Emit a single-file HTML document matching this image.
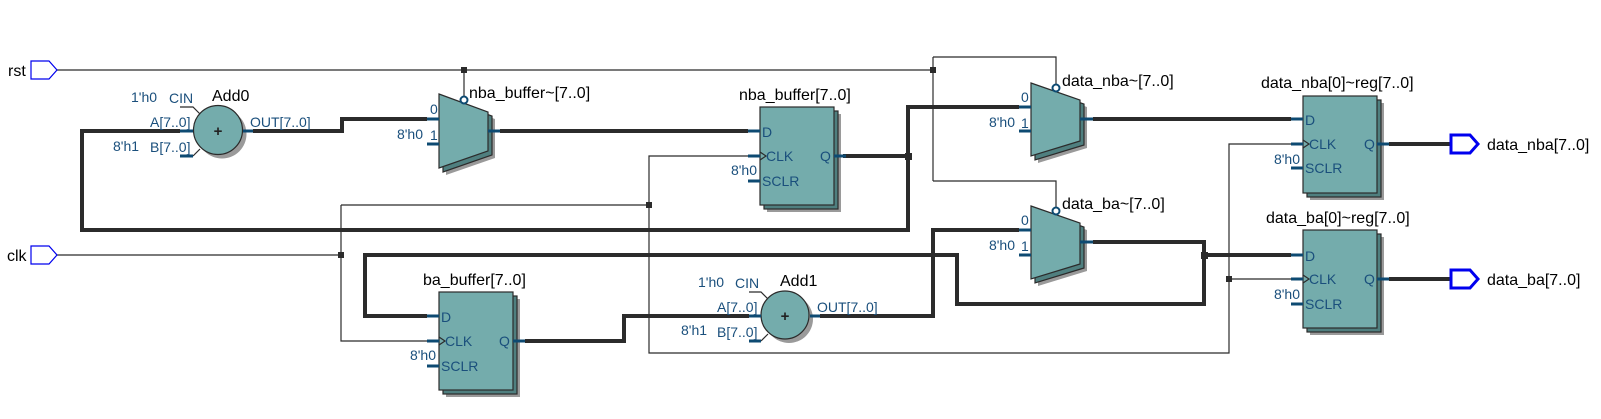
<!DOCTYPE html>
<html><head><meta charset="utf-8"><style>
html,body{margin:0;padding:0;background:#fff;}
svg{display:block;font-family:"Liberation Sans",sans-serif;}
.w{stroke:#2b2b2b;stroke-width:1.2;fill:none;}
.t{stroke:#2b2b2b;stroke-width:4;fill:none;}
.p{stroke:#0d4a72;stroke-width:3;}
.pl{fill:#1a4f7c;font-size:14px;}
.tl{fill:#000;font-size:16px;}
.body{fill:#74acac;stroke:#2b2b2b;stroke-width:1.2;}
.back{fill:#4f7f7f;stroke:#2b2b2b;stroke-width:1.2;}
.sh{fill:#9a9a9a;}
.j{fill:#2b2b2b;}
</style></head><body>
<svg width="1601" height="419" viewBox="0 0 1601 419" xmlns="http://www.w3.org/2000/svg">
<polyline class="w" points="57,70 933,70"/>
<polyline class="w" points="464,70 464,97"/>
<polyline class="w" points="933,57 933,181"/>
<polyline class="w" points="933,57 1056,57 1056,85"/>
<polyline class="w" points="933,181 1056,181 1056,208"/>
<polyline class="w" points="57,255 341,255"/>
<polyline class="w" points="341,205 341,341 427,341"/>
<polyline class="w" points="341,205 649,205"/>
<polyline class="w" points="748,156 649,156 649,353 1229,353 1229,144 1291,144"/>
<polyline class="w" points="1229,279 1291,279"/>
<polyline class="t" points="253,131 342,131 342,119 427,119"/>
<polyline class="t" points="180,131 82,131 82,230 908,230 908,107 1019,107"/>
<polyline class="t" points="843,156 908,156"/>
<polyline class="t" points="500,131 748,131"/>
<polyline class="t" points="1093,119 1291,119"/>
<polyline class="t" points="1093,242 1204,242 1204,304 957,304 957,255 365,255 365,316 427,316"/>
<polyline class="t" points="1204,255 1291,255"/>
<polyline class="t" points="525,341 624,341 624,316 749,316"/>
<polyline class="t" points="820,316 933,316 933,230 1019,230"/>
<polyline class="t" points="1389,144 1451,144"/>
<polyline class="t" points="1389,279 1451,279"/>
<rect class="j" x="461" y="67" width="6" height="6"/>
<rect class="j" x="930" y="67" width="6" height="6"/>
<rect class="j" x="338" y="252" width="6" height="6"/>
<rect class="j" x="646" y="202" width="6" height="6"/>
<rect class="j" x="905" y="153" width="7" height="7"/>
<rect class="j" x="1201" y="252" width="7" height="7"/>
<rect class="j" x="1226" y="276" width="6" height="6"/>
<text x="8" y="76" class="tl">rst</text>
<polygon points="31,61 49,61 57,70 49,79 31,79" fill="#fff" stroke="#0000ee" stroke-width="1.2"/>
<text x="7" y="261" class="tl">clk</text>
<polygon points="31,246 49,246 57,255 49,264 31,264" fill="#fff" stroke="#0000ee" stroke-width="1.2"/>
<polygon points="1451,135 1470,135 1478,144 1470,153 1451,153" fill="#fff" stroke="#0000ee" stroke-width="3"/>
<text x="1487" y="150" class="tl">data_nba[7..0]</text>
<polygon points="1451,270 1470,270 1478,279 1470,288 1451,288" fill="#fff" stroke="#0000ee" stroke-width="3"/>
<text x="1487" y="285" class="tl">data_ba[7..0]</text>

<g>
<text x="212" y="101" class="tl">Add0</text>
<text x="131" y="102" class="pl" font-size="16">1'h0</text>
<text x="169" y="103" class="pl" font-size="13">CIN</text>
<polyline class="w" points="180,107 193,107 200,114" stroke-width="0.8"/>
<polyline class="w" points="193,156 200,149" stroke-width="0.8"/>
<circle cx="222" cy="134" r="24.5" class="sh"/>
<circle cx="218" cy="130" r="24.5" class="body"/>
<text x="218" y="136" text-anchor="middle" font-size="15" font-weight="bold" fill="#222">+</text>
<line class="p" x1="180" y1="131" x2="193" y2="131"/>
<line class="p" x1="180" y1="156" x2="193" y2="156"/>
<line class="p" x1="243" y1="131" x2="253" y2="131"/>
<text x="150" y="127" class="pl">A[7..0]</text>
<text x="113" y="151" class="pl" font-size="16">8'h1</text>
<text x="150" y="152" class="pl">B[7..0]</text>
<text x="250" y="127" class="pl">OUT[7..0]</text>
</g>
<g>
<text x="780" y="286" class="tl">Add1</text>
<text x="698" y="287" class="pl" font-size="16">1'h0</text>
<text x="735" y="288" class="pl" font-size="13">CIN</text>
<polyline class="w" points="749,292 761,292 768,299" stroke-width="0.8"/>
<polyline class="w" points="761,341 768,334" stroke-width="0.8"/>
<circle cx="789" cy="319" r="24" class="sh"/>
<circle cx="785" cy="315" r="24" class="body"/>
<text x="785" y="321" text-anchor="middle" font-size="15" font-weight="bold" fill="#222">+</text>
<line class="p" x1="749" y1="316" x2="761" y2="316"/>
<line class="p" x1="749" y1="341" x2="761" y2="341"/>
<line class="p" x1="810" y1="316" x2="820" y2="316"/>
<text x="717" y="312" class="pl">A[7..0]</text>
<text x="681" y="335" class="pl" font-size="16">8'h1</text>
<text x="717" y="337" class="pl">B[7..0]</text>
<text x="817" y="312" class="pl">OUT[7..0]</text>
</g>

<g>
<polygon class="sh" points="446,101 495,119 495,158 446,175"/>
<polygon class="back" points="443,98 492,116 492,155 443,172"/>
<polygon class="body" points="439,94 488,112 488,151 439,168"/>
<circle cx="464" cy="100" r="3.5" fill="#fff" stroke="#0d4a72" stroke-width="2"/>
<text x="469" y="98" class="tl">nba_buffer~[7..0]</text>
<line class="p" x1="427" y1="119" x2="439" y2="119"/>
<line class="p" x1="427" y1="144" x2="439" y2="144"/>
<line class="p" x1="488" y1="131" x2="500" y2="131"/>
<text x="430" y="114" class="pl">0</text>
<text x="430" y="140" class="pl">1</text>
<text x="423" y="139" class="pl" font-size="16" text-anchor="end">8'h0</text>
</g>
<g>
<polygon class="sh" points="1038,90 1087,107 1087,148 1038,163"/>
<polygon class="back" points="1035,87 1084,104 1084,145 1035,160"/>
<polygon class="body" points="1031,83 1080,100 1080,141 1031,156"/>
<circle cx="1056" cy="88" r="3.5" fill="#fff" stroke="#0d4a72" stroke-width="2"/>
<text x="1062" y="86" class="tl">data_nba~[7..0]</text>
<line class="p" x1="1019" y1="107" x2="1031" y2="107"/>
<line class="p" x1="1019" y1="131" x2="1031" y2="131"/>
<line class="p" x1="1080" y1="119" x2="1093" y2="119"/>
<text x="1021" y="102" class="pl">0</text>
<text x="1021" y="128" class="pl">1</text>
<text x="1015" y="127" class="pl" font-size="16" text-anchor="end">8'h0</text>
</g>
<g>
<polygon class="sh" points="1038,213 1087,230 1087,271 1038,286"/>
<polygon class="back" points="1035,210 1084,227 1084,268 1035,283"/>
<polygon class="body" points="1031,206 1080,223 1080,264 1031,279"/>
<circle cx="1056" cy="211" r="3.5" fill="#fff" stroke="#0d4a72" stroke-width="2"/>
<text x="1062" y="209" class="tl">data_ba~[7..0]</text>
<line class="p" x1="1019" y1="230" x2="1031" y2="230"/>
<line class="p" x1="1019" y1="255" x2="1031" y2="255"/>
<line class="p" x1="1080" y1="242" x2="1093" y2="242"/>
<text x="1021" y="225" class="pl">0</text>
<text x="1021" y="251" class="pl">1</text>
<text x="1015" y="250" class="pl" font-size="16" text-anchor="end">8'h0</text>
</g>

<g>
<rect class="sh" x="767" y="114" width="74" height="98"/>
<rect class="back" x="764" y="111" width="74" height="98"/>
<rect class="body" x="760" y="107" width="74" height="98"/>
<text x="739" y="100" class="tl">nba_buffer[7..0]</text>
<line class="p" x1="748" y1="131" x2="760" y2="131"/>
<line class="p" x1="748" y1="156" x2="760" y2="156"/>
<line class="p" x1="748" y1="181" x2="760" y2="181"/>
<line class="p" x1="834" y1="156" x2="846" y2="156"/>
<polyline class="w" points="760,152 766,156 760,160" stroke-width="0.8"/>
<text x="762" y="137" class="pl" font-size="15">D</text>
<text x="766" y="161" class="pl" font-size="15">CLK</text>
<text x="762" y="186" class="pl" font-size="15">SCLR</text>
<text x="820" y="161" class="pl" font-size="15">Q</text>
<text x="757" y="175" class="pl" font-size="16" text-anchor="end">8'h0</text>
</g>
<g>
<rect class="sh" x="446" y="299" width="74" height="98"/>
<rect class="back" x="443" y="296" width="74" height="98"/>
<rect class="body" x="439" y="292" width="74" height="98"/>
<text x="423" y="285" class="tl">ba_buffer[7..0]</text>
<line class="p" x1="427" y1="316" x2="439" y2="316"/>
<line class="p" x1="427" y1="341" x2="439" y2="341"/>
<line class="p" x1="427" y1="366" x2="439" y2="366"/>
<line class="p" x1="513" y1="341" x2="525" y2="341"/>
<polyline class="w" points="439,337 445,341 439,345" stroke-width="0.8"/>
<text x="441" y="322" class="pl" font-size="15">D</text>
<text x="445" y="346" class="pl" font-size="15">CLK</text>
<text x="441" y="371" class="pl" font-size="15">SCLR</text>
<text x="499" y="346" class="pl" font-size="15">Q</text>
<text x="436" y="360" class="pl" font-size="16" text-anchor="end">8'h0</text>
</g>
<g>
<rect class="sh" x="1310" y="103" width="74" height="97"/>
<rect class="back" x="1307" y="100" width="74" height="97"/>
<rect class="body" x="1303" y="96" width="74" height="97"/>
<text x="1261" y="88" class="tl">data_nba[0]~reg[7..0]</text>
<line class="p" x1="1291" y1="119" x2="1303" y2="119"/>
<line class="p" x1="1291" y1="144" x2="1303" y2="144"/>
<line class="p" x1="1291" y1="168" x2="1303" y2="168"/>
<line class="p" x1="1377" y1="144" x2="1389" y2="144"/>
<polyline class="w" points="1303,140 1309,144 1303,148" stroke-width="0.8"/>
<text x="1305" y="125" class="pl" font-size="15">D</text>
<text x="1309" y="149" class="pl" font-size="15">CLK</text>
<text x="1305" y="173" class="pl" font-size="15">SCLR</text>
<text x="1364" y="149" class="pl" font-size="15">Q</text>
<text x="1300" y="164" class="pl" font-size="16" text-anchor="end">8'h0</text>
</g>
<g>
<rect class="sh" x="1310" y="237" width="74" height="98"/>
<rect class="back" x="1307" y="234" width="74" height="98"/>
<rect class="body" x="1303" y="230" width="74" height="98"/>
<text x="1266" y="223" class="tl">data_ba[0]~reg[7..0]</text>
<line class="p" x1="1291" y1="255" x2="1303" y2="255"/>
<line class="p" x1="1291" y1="279" x2="1303" y2="279"/>
<line class="p" x1="1291" y1="304" x2="1303" y2="304"/>
<line class="p" x1="1377" y1="279" x2="1389" y2="279"/>
<polyline class="w" points="1303,275 1309,279 1303,283" stroke-width="0.8"/>
<text x="1305" y="261" class="pl" font-size="15">D</text>
<text x="1309" y="284" class="pl" font-size="15">CLK</text>
<text x="1305" y="309" class="pl" font-size="15">SCLR</text>
<text x="1364" y="284" class="pl" font-size="15">Q</text>
<text x="1300" y="299" class="pl" font-size="16" text-anchor="end">8'h0</text>
</g>
</svg>
</body></html>
